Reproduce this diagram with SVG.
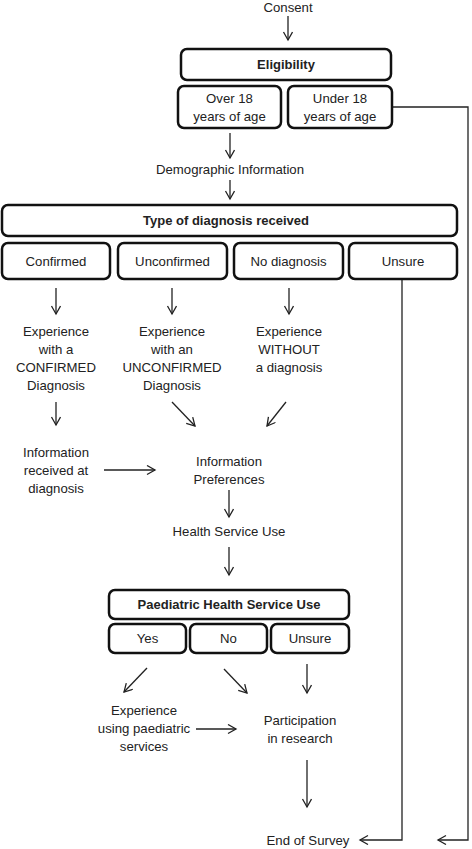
<svg xmlns="http://www.w3.org/2000/svg" width="472" height="849" viewBox="0 0 472 849">
<defs>
<marker id="ah" markerWidth="12" markerHeight="12" refX="9" refY="5" orient="auto" markerUnits="userSpaceOnUse">
<path d="M1,0.5 L9,5 L1,9.5" fill="none" stroke="#222" stroke-width="1.3"/>
</marker>
</defs>
<style>
text{font-family:"Liberation Sans",Arial,sans-serif;font-size:13.2px;fill:#222;text-anchor:middle}
.b{font-weight:bold;font-size:13px}
.box{fill:#fff;stroke:#111;stroke-width:2.5}
.c{fill:none;stroke:#222;stroke-width:1.3}
.a{marker-end:url(#ah)}
</style>
<rect width="472" height="849" fill="#fff"/>
<g id="connectors">
<line class="c a" x1="288" y1="16" x2="288" y2="40"/>
<polyline class="c a" points="392,107 468,107 468,840 438,840"/>
<line class="c a" x1="230" y1="133" x2="230" y2="158"/>
<line class="c a" x1="230" y1="180" x2="230" y2="199"/>
<line class="c a" x1="56" y1="288" x2="56" y2="314"/>
<line class="c a" x1="172" y1="288" x2="172" y2="314"/>
<line class="c a" x1="289" y1="288" x2="289" y2="314"/>
<polyline class="c a" points="402,279 402,840 360,840"/>
<line class="c a" x1="56" y1="402" x2="56" y2="425"/>
<line class="c a" x1="172" y1="402" x2="195" y2="426"/>
<line class="c a" x1="286" y1="402" x2="267" y2="426"/>
<line class="c a" x1="104" y1="470" x2="155" y2="470"/>
<line class="c a" x1="229" y1="490" x2="229" y2="517"/>
<line class="c a" x1="229" y1="547" x2="229" y2="575"/>
<line class="c a" x1="147" y1="668" x2="124" y2="692"/>
<line class="c a" x1="224" y1="669" x2="247" y2="693"/>
<line class="c a" x1="307" y1="664" x2="307" y2="693"/>
<line class="c a" x1="196" y1="729" x2="236" y2="729"/>
<line class="c a" x1="307" y1="760" x2="307" y2="807"/>
</g>
<g id="consent"><text x="288" y="12">Consent</text></g>
<g id="eligibility"><rect class="box" x="181" y="49" width="210" height="31" rx="6"/><text class="b" x="286" y="69">Eligibility</text></g>
<g id="over18"><rect class="box" x="178" y="86" width="103" height="42" rx="6"/><text x="229.5" y="103">Over 18</text><text x="229.5" y="121">years of age</text></g>
<g id="under18"><rect class="box" x="288" y="86" width="104" height="42" rx="6"/><text x="340" y="103">Under 18</text><text x="340" y="121">years of age</text></g>
<g id="demographic"><text x="230" y="174">Demographic Information</text></g>
<g id="type"><rect class="box" x="2" y="205" width="455" height="31" rx="6"/><text class="b" x="226" y="225">Type of diagnosis received</text></g>
<g id="confirmed"><rect class="box" x="2" y="243" width="108" height="36" rx="6"/><text x="56" y="266">Confirmed</text></g>
<g id="unconfirmed"><rect class="box" x="118" y="243" width="109" height="36" rx="6"/><text x="172.5" y="266">Unconfirmed</text></g>
<g id="nodiagnosis"><rect class="box" x="234" y="243" width="109" height="36" rx="6"/><text x="288.5" y="266">No diagnosis</text></g>
<g id="unsure1"><rect class="box" x="349" y="243" width="108" height="36" rx="6"/><text x="403" y="266">Unsure</text></g>
<g id="exp-confirmed"><text x="56" y="336">Experience</text><text x="56" y="354">with a</text><text x="56" y="372">CONFIRMED</text><text x="56" y="390">Diagnosis</text></g>
<g id="exp-unconfirmed"><text x="172" y="336">Experience</text><text x="172" y="354">with an</text><text x="172" y="372">UNCONFIRMED</text><text x="172" y="390">Diagnosis</text></g>
<g id="exp-without"><text x="289" y="336">Experience</text><text x="289" y="354">WITHOUT</text><text x="289" y="372">a diagnosis</text></g>
<g id="info-received"><text x="56" y="457">Information</text><text x="56" y="475">received at</text><text x="56" y="493">diagnosis</text></g>
<g id="info-pref"><text x="229" y="466">Information</text><text x="229" y="484">Preferences</text></g>
<g id="health"><text x="229" y="536">Health Service Use</text></g>
<g id="paed"><rect class="box" x="109" y="590" width="240" height="29" rx="6"/><text class="b" x="229" y="609">Paediatric Health Service Use</text></g>
<g id="yes"><rect class="box" x="109" y="624" width="77" height="29" rx="6"/><text x="147.5" y="643">Yes</text></g>
<g id="no"><rect class="box" x="190" y="624" width="77" height="29" rx="6"/><text x="228.5" y="643">No</text></g>
<g id="unsure2"><rect class="box" x="271" y="624" width="78" height="29" rx="6"/><text x="310" y="643">Unsure</text></g>
<g id="exp-paed"><text x="144" y="715">Experience</text><text x="144" y="733">using paediatric</text><text x="144" y="751">services</text></g>
<g id="participation"><text x="300" y="725">Participation</text><text x="300" y="743">in research</text></g>
<g id="end"><text x="308" y="845">End of Survey</text></g>
</svg>
